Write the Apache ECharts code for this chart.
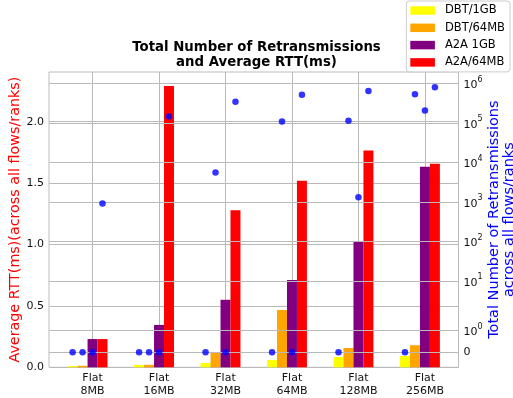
<!DOCTYPE html>
<html><head><meta charset="utf-8">
<script src="https://cdn.jsdelivr.net/npm/echarts@6/dist/echarts.min.js"></script>
<style>html,body{margin:0;padding:0;background:#fff}#c{width:513px;height:398px}</style>
</head><body><div id="c"></div>
<script>
// ---- data ----
const categories = ['Flat\n8MB','Flat\n16MB','Flat\n32MB','Flat\n64MB','Flat\n128MB','Flat\n256MB'];
const seriesNames = ['DBT/1GB','DBT/64MB','A2A 1GB','A2A/64MB'];
// Average RTT (ms) — left axis, bars
const rttDBT1GB  = [0.010, 0.019, 0.035, 0.060, 0.084, 0.092];
const rttDBT64MB = [0.012, 0.020, 0.117, 0.467, 0.157, 0.180];
const rttA2A1GB  = [0.230, 0.345, 0.550, 0.710, 1.024, 1.633];
const rttA2A64MB = [0.230, 2.290, 1.280, 1.520, 1.765, 1.657];
// Total retransmissions — right axis (symlog), dots
const retxDBT1GB  = [0, 0, 0, 0, 0, 0];
const retxDBT64MB = [0, 0, 5500, 107000, 113000, 530000];
const retxA2A1GB  = [0, 0, 0, 0, 1300, 205000];
const retxA2A64MB = [900, 143000, 340000, 510000, 640000, 790000];
// tick labels
const rttTicks = [0, 0.5, 1.0, 1.5, 2.0];
const retxTicks = [0, 1, 10, 100, 1000, 10000, 100000, 1000000];
const retxTickLabels = ['0','10^0','10^1','10^2','10^3','10^4','10^5','10^6'];

// ---- layout / style ----
const barOffsets = [-0.3, -0.15, 0, 0.15];   // group offsets in category units
const colors = ['#ffff00','#ffa500','#800080','#ff0000'];
const gridColor = '#b9b9b9';
const font = 'DejaVu Sans';
const rtt = [rttDBT1GB, rttDBT64MB, rttA2A1GB, rttA2A64MB];
const retx = [retxDBT1GB, retxDBT64MB, retxA2A1GB, retxA2A64MB];

// symmetric log transform (linthresh 2, linscale 1, base 10)
function symlog(v){
  const t = 2, a = 1/(1-1/10), av = Math.abs(v);
  return av <= t ? v*a : Math.sign(v)*t*(a + Math.log10(av/t));
}
const retxTickPos = retxTicks.map(symlog);
const catIdx = categories.map((c,i)=>i);
function richLabel(s){
  const p = s.split('^');
  return p.length === 1 ? '{z|' + s + '}' : '{b|' + p[0] + '}{s|' + p[1] + '}';
}

const series = [];
rtt.forEach((arr,k)=>{
  series.push({
    type:'bar', name: seriesNames[k], xAxisIndex:0, yAxisIndex:0,
    data: arr.map((v,i)=>[i+barOffsets[k], v]),
    barWidth:'100%', barGap:'-100%',
    itemStyle:{color: colors[k]}, z:2
  });
});
retx.forEach((arr,k)=>{
  series.push({
    type:'scatter', name:'retx'+k, xAxisIndex:0, yAxisIndex:1,
    data: arr.map((v,i)=>[i+barOffsets[k], symlog(v)]),
    symbol:'circle', symbolSize:6.5,
    itemStyle:{color:'#0000ff'}, z:6
  });
});

const chart = echarts.init(document.getElementById('c'), null, {renderer:'canvas'});
chart.setOption({
  animation:false,
  backgroundColor:'#fff',
  title:{
    text:'Total Number of Retransmissions\nand Average RTT(ms)',
    left:'center', top:40, padding:[0,5.6,0,0],
    textStyle:{fontFamily:font, fontWeight:'bold', fontSize:13.3, lineHeight:15, color:'#000'}
  },
  legend:{
    data: seriesNames, orient:'vertical', right:3, top:1,
    icon:'rect', itemWidth:24.6, itemHeight:8.5, itemGap:4.3,
    padding:[3,5,3,4],
    borderColor:'#cccccc', borderWidth:1, borderRadius:3,
    backgroundColor:'rgba(255,255,255,0.8)',
    textStyle:{fontFamily:font, fontSize:11.5, lineHeight:13, color:'#000', padding:[0,0,0,5]}
  },
  grid:{left:49, right:54.5, top:72, bottom:30.7, containLabel:false, outerBoundsMode:'none',
    show:true, borderColor:'#bcbcbc', borderWidth:1, backgroundColor:'transparent'},
  xAxis:{
    type:'value', min:-0.655, max:5.505,
    axisLine:{show:false},
    axisTick:{show:false, customValues: catIdx},
    axisLabel:{customValues: catIdx, formatter: v=>categories[Math.round(v)], margin:4, lineHeight:13,
      fontFamily:font, fontSize:11, color:'#111'},
    splitLine:{show:true, lineStyle:{color:gridColor, width:1}}
  },
  yAxis:[
    {
      type:'value', min:0, max:2.405, position:'left',
      axisLine:{show:false}, axisTick:{show:false, customValues: rttTicks},
      axisLabel:{customValues: rttTicks, formatter: v=>v.toFixed(1), margin:5, fontFamily:font, fontSize:11, color:'#111'},
      splitLine:{show:true, lineStyle:{color:gridColor, width:1}},
      name:'Average RTT(ms)(across all flows/ranks)', nameLocation:'middle', nameRotate:90, nameGap:27,
      nameMoveOverlap:false,
      nameTextStyle:{color:'#ff0000', fontFamily:font, fontSize:14.3}
    },
    {
      type:'value', min:-0.76, max:14.19, position:'right', z:3,
      axisLine:{show:false}, axisTick:{show:false, customValues: retxTickPos},
      axisLabel:{customValues: retxTickPos, margin:5, fontFamily:font, fontSize:11, color:'#111',
        formatter: v=>{ const i = retxTickPos.findIndex(p=>Math.abs(p-v)<1e-6); return i<0?'':richLabel(retxTickLabels[i]); },
        rich:{
          z:{fontFamily:font, fontSize:11, color:'#111', lineHeight:13},
          b:{fontFamily:font, fontSize:11, color:'#111', lineHeight:15, verticalAlign:'bottom'},
          s:{fontFamily:font, fontSize:8, color:'#111', lineHeight:15, verticalAlign:'top'}
        }},
      splitLine:{show:true, lineStyle:{color:gridColor, width:1}},
      name:'Total Number of Retransmissions\nacross all flows/ranks', nameLocation:'middle', nameRotate:90, nameGap:28,
      nameMoveOverlap:false,
      nameTextStyle:{color:'#0000ff', fontFamily:font, fontSize:14.5, lineHeight:15, align:'center'}
    }
  ],
  series: series
});
</script>
</body></html>
